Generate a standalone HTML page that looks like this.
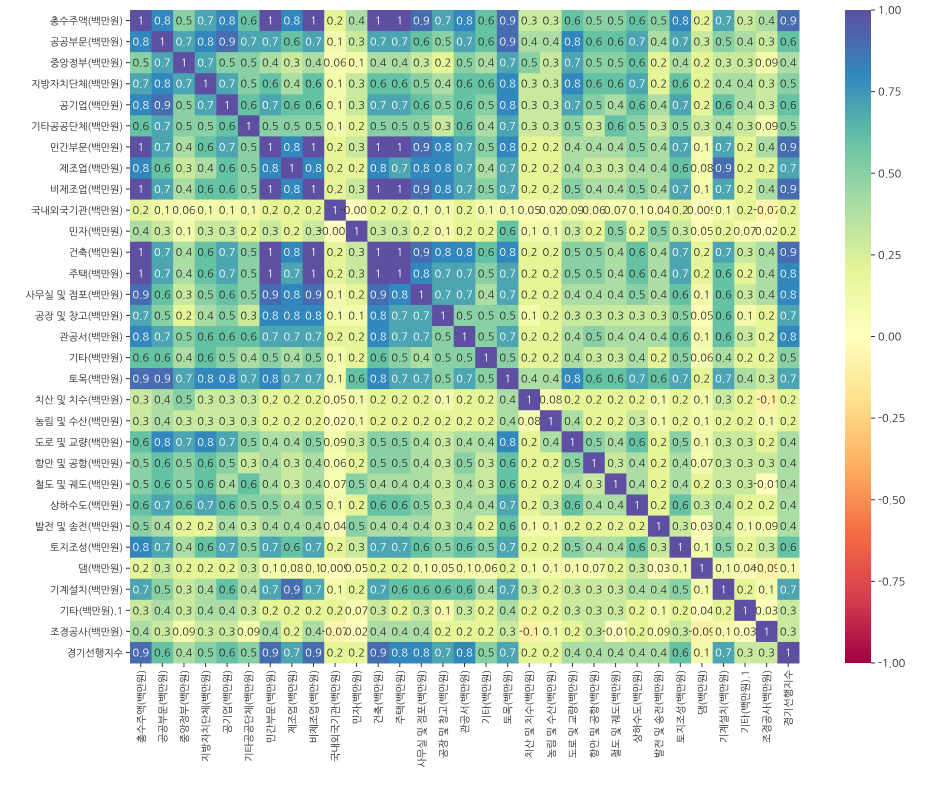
<!DOCTYPE html>
<html><head><meta charset="utf-8">
<style>
html,body{margin:0;padding:0;background:#fff;}
svg{display:block;font-family:"NanumGothic","Liberation Sans","Noto Sans CJK KR",sans-serif;}
</style></head>
<body>
<svg id="chart" width="952" height="785" viewBox="0 0 952 785">
<defs>
<linearGradient id="cbar" x1="0" y1="1" x2="0" y2="0">
<stop offset="0" stop-color="#9e0142"/><stop offset="0.1" stop-color="#d53e4f"/><stop offset="0.2" stop-color="#f46d43"/><stop offset="0.3" stop-color="#fdae61"/><stop offset="0.4" stop-color="#fee08b"/><stop offset="0.5" stop-color="#ffffbf"/><stop offset="0.6" stop-color="#e6f598"/><stop offset="0.7" stop-color="#abdda4"/><stop offset="0.8" stop-color="#66c2a5"/><stop offset="0.9" stop-color="#3288bd"/><stop offset="1" stop-color="#5e4fa2"/>
</linearGradient>
</defs>
<g id="cells"></g>
<g id="ylabels"></g>
<g id="xlabels"></g>
<rect x="845" y="10" width="26" height="653" fill="url(#cbar)"/>
<g id="cbticks"></g>
</svg>
<script>
const labels = ["총수주액(백만원)","공공부문(백만원)","중앙정부(백만원)","지방자치단체(백만원)","공기업(백만원)","기타공공단체(백만원)","민간부문(백만원)","제조업(백만원)","비제조업(백만원)","국내외국기관(백만원)","민자(백만원)","건축(백만원)","주택(백만원)","사무실 및 점포(백만원)","공장 및 창고(백만원)","관공서(백만원)","기타(백만원)","토목(백만원)","치산 및 치수(백만원)","농림 및 수산(백만원)","도로 및 교량(백만원)","항만 및 공항(백만원)","철도 및 궤도(백만원)","상하수도(백만원)","발전 및 송전(백만원)","토지조성(백만원)","댐(백만원)","기계설치(백만원)","기타(백만원).1","조경공사(백만원)","경기선행지수"];
const values = [
[1,0.8,0.5,0.7,0.8,0.6,1,0.8,1,0.2,0.4,1,1,0.9,0.7,0.8,0.6,0.9,0.3,0.3,0.6,0.5,0.5,0.6,0.5,0.8,0.2,0.7,0.3,0.4,0.9],
[0.8,1,0.7,0.8,0.9,0.7,0.7,0.6,0.7,0.1,0.3,0.7,0.7,0.6,0.5,0.7,0.6,0.9,0.4,0.4,0.8,0.6,0.6,0.7,0.4,0.7,0.3,0.5,0.4,0.3,0.6],
[0.5,0.7,1,0.7,0.5,0.5,0.4,0.3,0.4,0.06,0.1,0.4,0.4,0.3,0.2,0.5,0.4,0.7,0.5,0.3,0.7,0.5,0.5,0.6,0.2,0.4,0.2,0.3,0.3,0.09,0.4],
[0.7,0.8,0.7,1,0.7,0.5,0.6,0.4,0.6,0.1,0.3,0.6,0.6,0.5,0.4,0.6,0.6,0.8,0.3,0.3,0.8,0.6,0.6,0.7,0.2,0.6,0.2,0.4,0.4,0.3,0.5],
[0.8,0.9,0.5,0.7,1,0.6,0.7,0.6,0.6,0.1,0.3,0.7,0.7,0.6,0.5,0.6,0.5,0.8,0.3,0.3,0.7,0.5,0.4,0.6,0.4,0.7,0.2,0.6,0.4,0.3,0.6],
[0.6,0.7,0.5,0.5,0.6,1,0.5,0.5,0.5,0.1,0.2,0.5,0.5,0.5,0.3,0.6,0.4,0.7,0.3,0.3,0.5,0.3,0.6,0.5,0.3,0.5,0.3,0.4,0.3,0.09,0.5],
[1,0.7,0.4,0.6,0.7,0.5,1,0.8,1,0.2,0.3,1,1,0.9,0.8,0.7,0.5,0.8,0.2,0.2,0.4,0.4,0.4,0.5,0.4,0.7,0.1,0.7,0.2,0.4,0.9],
[0.8,0.6,0.3,0.4,0.6,0.5,0.8,1,0.8,0.2,0.2,0.8,0.7,0.8,0.8,0.7,0.4,0.7,0.2,0.2,0.4,0.3,0.3,0.4,0.4,0.6,0.08,0.9,0.2,0.2,0.7],
[1,0.7,0.4,0.6,0.6,0.5,1,0.8,1,0.2,0.3,1,1,0.9,0.8,0.7,0.5,0.7,0.2,0.2,0.5,0.4,0.4,0.5,0.4,0.7,0.1,0.7,0.2,0.4,0.9],
[0.2,0.1,0.06,0.1,0.1,0.1,0.2,0.2,0.2,1,-0.001,0.2,0.2,0.1,0.1,0.2,0.1,0.1,0.05,0.02,0.09,0.06,0.07,0.1,0.04,0.2,0.009,0.1,0.2,-0.07,0.2],
[0.4,0.3,0.1,0.3,0.3,0.2,0.3,0.2,0.3,-0.001,1,0.3,0.3,0.2,0.1,0.2,0.2,0.6,0.1,0.1,0.3,0.2,0.5,0.2,0.5,0.3,0.05,0.2,0.07,0.02,0.2],
[1,0.7,0.4,0.6,0.7,0.5,1,0.8,1,0.2,0.3,1,1,0.9,0.8,0.8,0.6,0.8,0.2,0.2,0.5,0.5,0.4,0.6,0.4,0.7,0.2,0.7,0.3,0.4,0.9],
[1,0.7,0.4,0.6,0.7,0.5,1,0.7,1,0.2,0.3,1,1,0.8,0.7,0.7,0.5,0.7,0.2,0.2,0.5,0.5,0.4,0.6,0.4,0.7,0.2,0.6,0.2,0.4,0.8],
[0.9,0.6,0.3,0.5,0.6,0.5,0.9,0.8,0.9,0.1,0.2,0.9,0.8,1,0.7,0.7,0.4,0.7,0.2,0.2,0.4,0.4,0.4,0.5,0.4,0.6,0.1,0.6,0.3,0.4,0.8],
[0.7,0.5,0.2,0.4,0.5,0.3,0.8,0.8,0.8,0.1,0.1,0.8,0.7,0.7,1,0.5,0.5,0.5,0.1,0.2,0.3,0.3,0.3,0.3,0.3,0.5,0.05,0.6,0.1,0.2,0.7],
[0.8,0.7,0.5,0.6,0.6,0.6,0.7,0.7,0.7,0.2,0.2,0.8,0.7,0.7,0.5,1,0.5,0.7,0.2,0.2,0.4,0.5,0.4,0.4,0.4,0.6,0.1,0.6,0.3,0.2,0.8],
[0.6,0.6,0.4,0.6,0.5,0.4,0.5,0.4,0.5,0.1,0.2,0.6,0.5,0.4,0.5,0.5,1,0.5,0.2,0.2,0.4,0.3,0.3,0.4,0.2,0.5,0.06,0.4,0.2,0.2,0.5],
[0.9,0.9,0.7,0.8,0.8,0.7,0.8,0.7,0.7,0.1,0.6,0.8,0.7,0.7,0.5,0.7,0.5,1,0.4,0.4,0.8,0.6,0.6,0.7,0.6,0.7,0.2,0.7,0.4,0.3,0.7],
[0.3,0.4,0.5,0.3,0.3,0.3,0.2,0.2,0.2,0.05,0.1,0.2,0.2,0.2,0.1,0.2,0.2,0.4,1,0.08,0.2,0.2,0.2,0.2,0.1,0.2,0.1,0.3,0.2,-0.1,0.2],
[0.3,0.4,0.3,0.3,0.3,0.3,0.2,0.2,0.2,0.02,0.1,0.2,0.2,0.2,0.2,0.2,0.2,0.4,0.08,1,0.4,0.2,0.2,0.3,0.1,0.2,0.1,0.2,0.2,0.1,0.2],
[0.6,0.8,0.7,0.8,0.7,0.5,0.4,0.4,0.5,0.09,0.3,0.5,0.5,0.4,0.3,0.4,0.4,0.8,0.2,0.4,1,0.5,0.4,0.6,0.2,0.5,0.1,0.3,0.3,0.2,0.4],
[0.5,0.6,0.5,0.6,0.5,0.3,0.4,0.3,0.4,0.06,0.2,0.5,0.5,0.4,0.3,0.5,0.3,0.6,0.2,0.2,0.5,1,0.3,0.4,0.2,0.4,0.07,0.3,0.3,0.3,0.4],
[0.5,0.6,0.5,0.6,0.4,0.6,0.4,0.3,0.4,0.07,0.5,0.4,0.4,0.4,0.3,0.4,0.3,0.6,0.2,0.2,0.4,0.3,1,0.4,0.2,0.4,0.2,0.3,0.3,-0.01,0.4],
[0.6,0.7,0.6,0.7,0.6,0.5,0.5,0.4,0.5,0.1,0.2,0.6,0.6,0.5,0.3,0.4,0.4,0.7,0.2,0.3,0.6,0.4,0.4,1,0.2,0.6,0.3,0.4,0.2,0.2,0.4],
[0.5,0.4,0.2,0.2,0.4,0.3,0.4,0.4,0.4,0.04,0.5,0.4,0.4,0.4,0.3,0.4,0.2,0.6,0.1,0.1,0.2,0.2,0.2,0.2,1,0.3,0.03,0.4,0.1,0.09,0.4],
[0.8,0.7,0.4,0.6,0.7,0.5,0.7,0.6,0.7,0.2,0.3,0.7,0.7,0.6,0.5,0.6,0.5,0.7,0.2,0.2,0.5,0.4,0.4,0.6,0.3,1,0.1,0.5,0.2,0.3,0.6],
[0.2,0.3,0.2,0.2,0.2,0.3,0.1,0.08,0.1,0.009,0.05,0.2,0.2,0.1,0.05,0.1,0.06,0.2,0.1,0.1,0.1,0.07,0.2,0.3,0.03,0.1,1,0.1,0.04,-0.09,0.1],
[0.7,0.5,0.3,0.4,0.6,0.4,0.7,0.9,0.7,0.1,0.2,0.7,0.6,0.6,0.6,0.6,0.4,0.7,0.3,0.2,0.3,0.3,0.3,0.4,0.4,0.5,0.1,1,0.2,0.1,0.7],
[0.3,0.4,0.3,0.4,0.4,0.3,0.2,0.2,0.2,0.2,0.07,0.3,0.2,0.3,0.1,0.3,0.2,0.4,0.2,0.2,0.3,0.3,0.3,0.2,0.1,0.2,0.04,0.2,1,0.03,0.3],
[0.4,0.3,0.09,0.3,0.3,0.09,0.4,0.2,0.4,-0.07,0.02,0.4,0.4,0.4,0.2,0.2,0.2,0.3,-0.1,0.1,0.2,0.3,-0.01,0.2,0.09,0.3,-0.09,0.1,0.03,1,0.3],
[0.9,0.6,0.4,0.5,0.6,0.5,0.9,0.7,0.9,0.2,0.2,0.9,0.8,0.8,0.7,0.8,0.5,0.7,0.2,0.2,0.4,0.4,0.4,0.4,0.4,0.6,0.1,0.7,0.3,0.3,1]
];
const cbTicks = [1.00, 0.75, 0.50, 0.25, 0.00, -0.25, -0.50, -0.75, -1.00];

const NS = "http://www.w3.org/2000/svg";
const X0 = 130, X1 = 799, Y0 = 10, Y1 = 663;
const n = labels.length;
const cw = (X1 - X0) / n, ch = (Y1 - Y0) / n;
const xPos = i => X0 + i * cw;
const yPos = i => Y0 + i * ch;
const stops = ["#9e0142","#d53e4f","#f46d43","#fdae61","#fee08b","#ffffbf","#e6f598","#abdda4","#66c2a5","#3288bd","#5e4fa2"].map(h=>[parseInt(h.slice(1,3),16),parseInt(h.slice(3,5),16),parseInt(h.slice(5,7),16)]);
function colorRGB(v){
  let t = Math.max(0, Math.min(1, (v + 1) / 2)) * 10;
  let i = Math.min(9, Math.floor(t)), f = t - i;
  return stops[i].map((c,k)=>Math.round(c + (stops[i+1][k]-c)*f));
}
function lum(rgb){
  const l = rgb.map(c=>{c/=255;return c<=0.03928?c/12.92:Math.pow((c+0.055)/1.055,2.4);});
  return 0.2126*l[0]+0.7152*l[1]+0.0722*l[2];
}
function fmt(v){ return String(v); }
const cells = document.getElementById('cells');
for (let r = 0; r < n; r++) {
  for (let c = 0; c < n; c++) {
    const v = values[r][c];
    const rgb = colorRGB(v);
    const rect = document.createElementNS(NS,'rect');
    rect.setAttribute('x', xPos(c)); rect.setAttribute('y', yPos(r));
    rect.setAttribute('width', cw + 0.5); rect.setAttribute('height', ch + 0.5);
    rect.setAttribute('fill', `rgb(${rgb.join(',')})`);
    
    
    cells.appendChild(rect);
    const t = document.createElementNS(NS,'text');
    t.setAttribute('x', xPos(c) + cw/2); t.setAttribute('y', yPos(r) + ch/2 + 4);
    t.setAttribute('text-anchor','middle'); t.setAttribute('font-size','11');
    t.setAttribute('fill', lum(rgb) > 0.408 ? '#262626' : '#ffffff');
    
    
    t.textContent = fmt(v);
    cells.appendChild(t);
  }
}
const yl = document.getElementById('ylabels');
const xl = document.getElementById('xlabels');
labels.forEach((lab, i) => {
  const tk = document.createElementNS(NS,'line');
  tk.setAttribute('x1', X0-4); tk.setAttribute('x2', X0); tk.setAttribute('y1', yPos(i)+ch/2); tk.setAttribute('y2', yPos(i)+ch/2);
  tk.setAttribute('stroke','#333');
  
  
  yl.appendChild(tk);
  const t = document.createElementNS(NS,'text');
  t.setAttribute('x', X0-7); t.setAttribute('y', yPos(i)+ch/2+4);
  t.setAttribute('text-anchor','end'); t.setAttribute('font-size','10'); t.setAttribute('fill','#222');
  
  
  t.textContent = lab;
  yl.appendChild(t);
  const xt = document.createElementNS(NS,'line');
  xt.setAttribute('x1', xPos(i)+cw/2); xt.setAttribute('x2', xPos(i)+cw/2); xt.setAttribute('y1', Y1); xt.setAttribute('y2', Y1+4);
  xt.setAttribute('stroke','#333');
  
  
  xl.appendChild(xt);
  const u = document.createElementNS(NS,'text');
  const cx = xPos(i)+cw/2+4, cy = Y1+7;
  u.setAttribute('x', cx); u.setAttribute('y', cy);
  u.setAttribute('text-anchor','end'); u.setAttribute('font-size','10'); u.setAttribute('fill','#222');
  u.setAttribute('transform', `rotate(-90 ${cx} ${cy})`);
  
  
  u.textContent = lab;
  xl.appendChild(u);
});
const cb = document.getElementById('cbticks');
cbTicks.forEach(v => {
  const y = Y0 + (1 - (v + 1) / 2) * (Y1 - Y0);
  const l = document.createElementNS(NS,'line');
  l.setAttribute('x1', 871); l.setAttribute('x2', 875); l.setAttribute('y1', y); l.setAttribute('y2', y);
  l.setAttribute('stroke','#333');
  
  
  cb.appendChild(l);
  const t = document.createElementNS(NS,'text');
  t.setAttribute('x', 878); t.setAttribute('y', y+4); t.setAttribute('font-size','11'); t.setAttribute('fill','#222');
  
  
  t.textContent = v.toFixed(2);
  cb.appendChild(t);
});
</script>
</body></html>
